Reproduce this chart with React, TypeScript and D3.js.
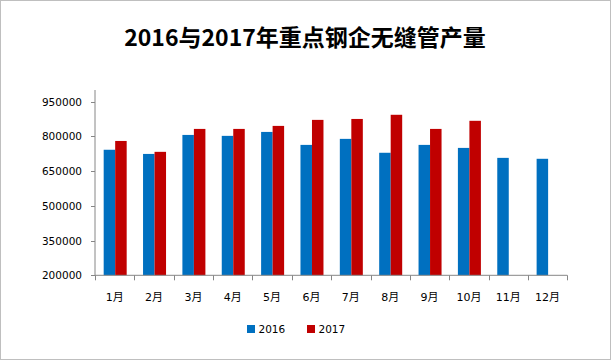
import * as d3 from 'd3'

const months = ['1月', '2月', '3月', '4月', '5月', '6月', '7月', '8月', '9月', '10月', '11月', '12月']
const values2016 = [742000, 724000, 806000, 802000, 819000, 763000, 789000, 729000, 763000, 750000, 707000, 703000]
const values2017: (number | null)[] = [780000, 733000, 832000, 832000, 845000, 871000, 875000, 893000, 832000, 867000, null, null]
const yTicks = [200000, 350000, 500000, 650000, 800000, 950000]
const seriesNames = ['2016', '2017']

const W = 612
const H = 361
const colors = ['#0070C0', '#C00000']

export default function App() {
  const margin = { left: 95, right: 44.7, top: 90, bottom: 85.7 }
  const innerW = W - margin.left - margin.right
  const innerH = H - margin.top - margin.bottom

  const x = d3.scaleBand<string>().domain(months).range([0, innerW]).paddingInner(0).paddingOuter(0)
  const inner = d3.scaleBand<string>().domain(seriesNames).range([0, 23]).padding(0)
  const y = d3.scaleLinear().domain([200000, 1000000]).range([innerH, 0])
  const offset = (x.bandwidth() - 23) / 2 + 0.5

  const series = [values2016, values2017]
  const font = "'DejaVu Sans', 'Noto Sans CJK SC', sans-serif"
  const axisColor = '#868686'

  return (
    <svg width={W} height={H} style={{ position: 'absolute', left: 0, top: 0, background: '#fff' }}>
      <rect x={0.5} y={0.5} width={W - 2} height={H - 2} fill="#fff" stroke="#bfbfbf" />
      <text x={305} y={46} textAnchor="middle" fontSize={23} fontWeight="bold"
        fontFamily="'Noto Sans CJK SC', sans-serif" fill="#000">2016与2017年重点钢企无缝管产量</text>
      <g transform={`translate(${margin.left},${margin.top})`}>
        {series.map((vals, si) =>
          vals.map((v, i) =>
            v == null ? null : (
              <rect key={`${si}-${i}`}
                x={(x(months[i]) ?? 0) + offset + (inner(seriesNames[si]) ?? 0)}
                y={y(v)}
                width={inner.bandwidth()}
                height={innerH - y(v)}
                fill={colors[si]} />
            )
          )
        )}
        <line x1={0} x2={0} y1={0} y2={innerH} stroke={axisColor} />
        <line x1={0} x2={innerW} y1={innerH} y2={innerH} stroke={axisColor} />
        {yTicks.map(t => (
          <g key={t} transform={`translate(0,${Math.round(y(t)) + 0.5})`}>
            <line x1={-4} x2={0} stroke={axisColor} />
            <text x={-13} dy="0.36em" textAnchor="end" fontSize={10.5} fontFamily={font} fill="#000">{t}</text>
          </g>
        ))}
        {months.concat(['']).map((m, i) => (
          <line key={`t${i}`} x1={Math.round(i * x.step()) + 0.5} x2={Math.round(i * x.step()) + 0.5}
            y1={innerH} y2={innerH + 5} stroke={axisColor} />
        ))}
        {months.map(m => (
          <text key={m} x={(x(m) ?? 0) + x.bandwidth() / 2} y={innerH + 26} textAnchor="middle"
            fontSize={11} fontFamily={font} fill="#000">{m}</text>
        ))}
      </g>
      {seriesNames.map((s, i) => (
        <g key={s} transform={`translate(${247 + i * 60},325)`}>
          <rect x={0} y={0} width={8} height={8} fill={colors[i]} />
          <text x={11.5} y={8} fontSize={10.5} fontFamily={font} fill="#000">{s}</text>
        </g>
      ))}
    </svg>
  )
}
